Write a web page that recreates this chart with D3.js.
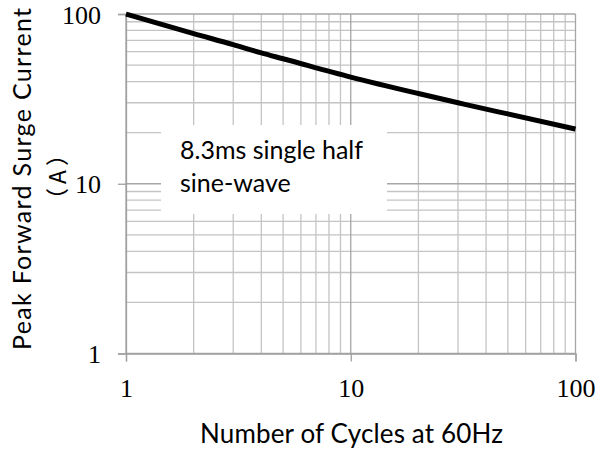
<!DOCTYPE html>
<html>
<head>
<meta charset="utf-8">
<script src="https://cdn.jsdelivr.net/npm/d3@7"></script>
<style>
    body { margin: 0; background: #ffffff; }
    svg { display: block; }
</style>
</head>
<body>
<svg id="chart" width="609" height="452"></svg>
<script>
// Surge current curve
var cycles = [1, 2, 3, 4, 5, 10, 20, 30, 40, 50, 100];
var surgeCurrent = [100, 76.6, 66, 59, 54.5, 42.5, 34, 30, 27.5, 25.8, 21];

// Axis values
var majorTicks = [1, 10, 100];
var minorTicks = [2, 3, 4, 5, 6, 7, 8, 9, 20, 30, 40, 50, 60, 70, 80, 90];

var xTitle = "Number of Cycles at 60Hz";
var yTitle = "Peak Forward Surge Current";
var yUnit = "\uff08A\uff09";
var noteLines = ["8.3ms single half", "sine-wave"];

var svg = d3.select("#chart");

// Plot area edges
var plotLeft = 126, plotRight = 575.5, plotTop = 14, plotBottom = 353.5;

var x = d3.scaleLog().domain([1, 100]).range([plotLeft, plotRight]);
var y = d3.scaleLog().domain([1, 100]).range([plotBottom, plotTop]);

var sans = "Lato, 'Noto Sans', sans-serif";
var serif = "'Liberation Serif', 'DejaVu Serif', serif";

// Draw a set of grid lines in both directions
function drawGrid(values, colour)
{
    var g = svg.append("g").attr("stroke", colour).attr("stroke-width", 1.3);
    g.selectAll(".gx").data(values).enter().append("line")
        .attr("x1", function(d) { return x(d); })
        .attr("x2", function(d) { return x(d); })
        .attr("y1", plotTop).attr("y2", plotBottom);
    g.selectAll(".gy").data(values).enter().append("line")
        .attr("y1", function(d) { return y(d); })
        .attr("y2", function(d) { return y(d); })
        .attr("x1", plotLeft).attr("x2", plotRight);
}
drawGrid(minorTicks, "#c4c4c4");
drawGrid(majorTicks, "#a6a6a6");

// White box behind the note
svg.append("rect")
    .attr("x", 161).attr("y", 125)
    .attr("width", 226).attr("height", 89)
    .attr("fill", "#ffffff");

svg.append("text")
    .attr("x", 180).attr("y", 159)
    .attr("font-family", sans).attr("font-size", 25)
    .attr("fill", "#000")
    .selectAll("tspan").data(noteLines).enter().append("tspan")
    .attr("x", 180)
    .attr("dy", function(d, i) { return i === 0 ? 0 : 33; })
    .text(function(d) { return d; });

// Axes
var xAxis = d3.axisBottom(x).tickValues(majorTicks).tickSize(8).tickFormat(d3.format("d"));
var yAxis = d3.axisLeft(y).tickValues(majorTicks).tickSize(8).tickFormat(d3.format("d"));

var gx = svg.append("g").attr("transform", "translate(0," + plotBottom + ")").call(xAxis);
var gy = svg.append("g").attr("transform", "translate(" + plotLeft + ",0)").call(yAxis);

[gx, gy].forEach(function(g) {
    g.select(".domain").attr("stroke", "#a0a0a0").attr("stroke-width", 1.3);
    g.selectAll(".tick line").attr("stroke", "#a0a0a0").attr("stroke-width", 1.3);
    g.selectAll(".tick text")
        .attr("font-family", serif).attr("font-size", 26)
        .attr("fill", "#000");
});
gx.selectAll(".tick text").attr("y", 43).attr("dy", null);
gy.selectAll(".tick text").attr("x", -25).attr("dy", "0.35em");

// Curve
var line = d3.line()
    .x(function(d, i) { return x(cycles[i]); })
    .y(function(d) { return y(d); })
    .curve(d3.curveMonotoneX);

svg.append("path")
    .datum(surgeCurrent)
    .attr("d", line)
    .attr("fill", "none")
    .attr("stroke", "#000")
    .attr("stroke-width", 5);

// Titles
svg.append("text")
    .attr("x", 351.5).attr("y", 443)
    .attr("text-anchor", "middle")
    .attr("font-family", sans).attr("font-size", 26)
    .attr("textLength", 303).attr("lengthAdjust", "spacing")
    .attr("fill", "#000")
    .text(xTitle);

svg.append("text")
    .attr("transform", "translate(31,179) rotate(-90)")
    .attr("text-anchor", "middle")
    .attr("font-family", sans).attr("font-size", 25)
    .attr("textLength", 342).attr("lengthAdjust", "spacing")
    .attr("fill", "#000")
    .text(yTitle);

svg.append("text")
    .attr("transform", "translate(66,175) rotate(-90)")
    .attr("text-anchor", "middle")
    .attr("font-family", "'Noto Sans CJK SC', sans-serif").attr("font-size", 23)
    .attr("letter-spacing", 4)
    .attr("fill", "#000")
    .text(yUnit);
</script>
</body>
</html>
